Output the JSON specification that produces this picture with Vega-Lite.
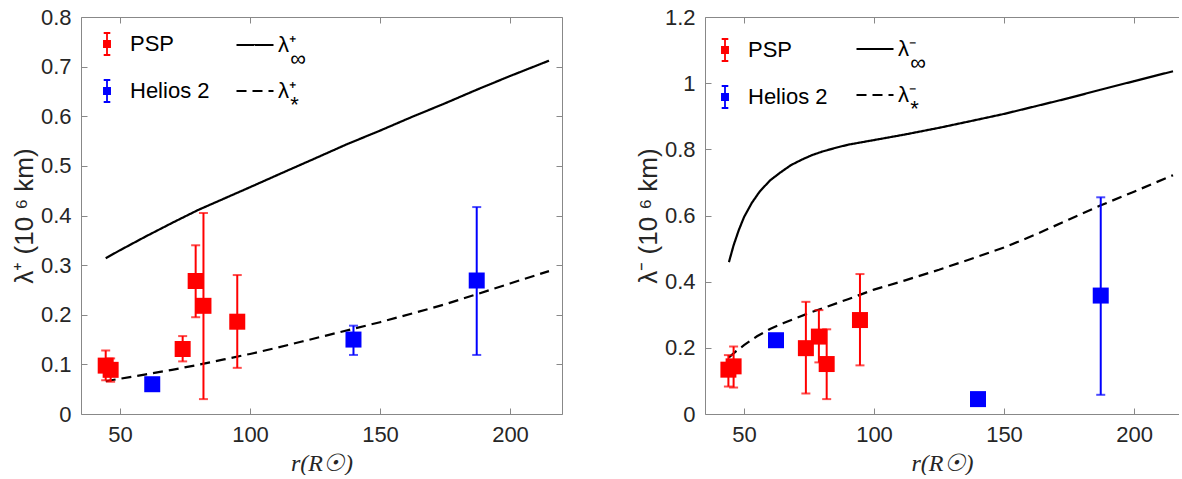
{
  "$schema": "https://vega.github.io/schema/vega-lite/v6.json",
  "padding": {"left": 11, "top": 6, "right": 0, "bottom": 0},
  "background": "white",
  "config": {
    "font": "Liberation Sans",
    "view": {"stroke": null},
    "style": {"guide-label": {"lineHeight": 14}},
    "axis": {
      "domainColor": "#888888",
      "tickColor": "#888888",
      "labelColor": "#262626",
      "labelFont": "Liberation Sans",
      "labelFontSize": 22,
      "labelFlush": false,
      "labelOverlap": false,
      "labelBound": false,
      "grid": false,
      "tickSize": -6,
      "tickWidth": 1,
      "domainWidth": 1,
      "labelPadding": 16,
      "titleFont": "Liberation Sans",
      "titleFontWeight": "normal",
      "titleFontSize": 26,
      "titleColor": "#262626"
    },
    "legend": {
      "labelFont": "Liberation Sans",
      "labelFontSize": 22,
      "labelColor": "#000000",
      "padding": 0,
      "symbolOpacity": 1
    }
  },
  "datasets": {
    "curvesL": [
      {"r": 44.5, "lam": 0.314, "curve": "inf"},
      {"r": 50, "lam": 0.330, "curve": "inf"},
      {"r": 60, "lam": 0.358, "curve": "inf"},
      {"r": 70, "lam": 0.385, "curve": "inf"},
      {"r": 80, "lam": 0.411, "curve": "inf"},
      {"r": 90, "lam": 0.434, "curve": "inf"},
      {"r": 100, "lam": 0.457, "curve": "inf"},
      {"r": 112, "lam": 0.485, "curve": "inf"},
      {"r": 125, "lam": 0.515, "curve": "inf"},
      {"r": 137, "lam": 0.543, "curve": "inf"},
      {"r": 150, "lam": 0.571, "curve": "inf"},
      {"r": 162, "lam": 0.598, "curve": "inf"},
      {"r": 175, "lam": 0.626, "curve": "inf"},
      {"r": 187, "lam": 0.653, "curve": "inf"},
      {"r": 200, "lam": 0.681, "curve": "inf"},
      {"r": 215, "lam": 0.712, "curve": "inf"},
      {"r": 44.5, "lam": 0.066, "curve": "star"},
      {"r": 50, "lam": 0.071, "curve": "star"},
      {"r": 60, "lam": 0.080, "curve": "star"},
      {"r": 70, "lam": 0.089, "curve": "star"},
      {"r": 80, "lam": 0.099, "curve": "star"},
      {"r": 90, "lam": 0.110, "curve": "star"},
      {"r": 100, "lam": 0.121, "curve": "star"},
      {"r": 110, "lam": 0.133, "curve": "star"},
      {"r": 120, "lam": 0.146, "curve": "star"},
      {"r": 130, "lam": 0.159, "curve": "star"},
      {"r": 140, "lam": 0.172, "curve": "star"},
      {"r": 150, "lam": 0.185, "curve": "star"},
      {"r": 162, "lam": 0.202, "curve": "star"},
      {"r": 175, "lam": 0.221, "curve": "star"},
      {"r": 187, "lam": 0.241, "curve": "star"},
      {"r": 200, "lam": 0.263, "curve": "star"},
      {"r": 215, "lam": 0.288, "curve": "star"}
    ],
    "pointsL": [
      {"r": 44.5, "val": 0.0975, "lo": 0.068, "hi": 0.128, "src": "PSP"},
      {"r": 46.4, "val": 0.089, "lo": 0.065, "hi": 0.112, "src": "PSP"},
      {"r": 74.1, "val": 0.131, "lo": 0.106, "hi": 0.157, "src": "PSP"},
      {"r": 79.1, "val": 0.268, "lo": 0.195, "hi": 0.340, "src": "PSP"},
      {"r": 82.1, "val": 0.218, "lo": 0.030, "hi": 0.405, "src": "PSP"},
      {"r": 95.1, "val": 0.186, "lo": 0.093, "hi": 0.280, "src": "PSP"},
      {"r": 62.4, "val": 0.060, "lo": null, "hi": null, "src": "Helios 2"},
      {"r": 139.8, "val": 0.150, "lo": 0.119, "hi": 0.178, "src": "Helios 2"},
      {"r": 187.2, "val": 0.269, "lo": 0.119, "hi": 0.417, "src": "Helios 2"}
    ],
    "curvesR": [
      {"r": 44.2, "lam": 0.459, "curve": "inf"},
      {"r": 46, "lam": 0.510, "curve": "inf"},
      {"r": 48, "lam": 0.556, "curve": "inf"},
      {"r": 50, "lam": 0.595, "curve": "inf"},
      {"r": 53, "lam": 0.638, "curve": "inf"},
      {"r": 56, "lam": 0.672, "curve": "inf"},
      {"r": 60, "lam": 0.706, "curve": "inf"},
      {"r": 64, "lam": 0.730, "curve": "inf"},
      {"r": 68, "lam": 0.752, "curve": "inf"},
      {"r": 72, "lam": 0.768, "curve": "inf"},
      {"r": 76, "lam": 0.782, "curve": "inf"},
      {"r": 80, "lam": 0.793, "curve": "inf"},
      {"r": 85, "lam": 0.804, "curve": "inf"},
      {"r": 90, "lam": 0.814, "curve": "inf"},
      {"r": 100, "lam": 0.828, "curve": "inf"},
      {"r": 112, "lam": 0.845, "curve": "inf"},
      {"r": 125, "lam": 0.865, "curve": "inf"},
      {"r": 137, "lam": 0.885, "curve": "inf"},
      {"r": 150, "lam": 0.907, "curve": "inf"},
      {"r": 162, "lam": 0.930, "curve": "inf"},
      {"r": 175, "lam": 0.955, "curve": "inf"},
      {"r": 187, "lam": 0.980, "curve": "inf"},
      {"r": 200, "lam": 1.006, "curve": "inf"},
      {"r": 215, "lam": 1.036, "curve": "inf"},
      {"r": 44.2, "lam": 0.171, "curve": "star"},
      {"r": 47, "lam": 0.190, "curve": "star"},
      {"r": 50, "lam": 0.208, "curve": "star"},
      {"r": 55, "lam": 0.235, "curve": "star"},
      {"r": 60, "lam": 0.257, "curve": "star"},
      {"r": 65, "lam": 0.274, "curve": "star"},
      {"r": 70, "lam": 0.290, "curve": "star"},
      {"r": 75, "lam": 0.305, "curve": "star"},
      {"r": 80, "lam": 0.319, "curve": "star"},
      {"r": 90, "lam": 0.347, "curve": "star"},
      {"r": 100, "lam": 0.376, "curve": "star"},
      {"r": 112, "lam": 0.404, "curve": "star"},
      {"r": 125, "lam": 0.436, "curve": "star"},
      {"r": 137, "lam": 0.468, "curve": "star"},
      {"r": 150, "lam": 0.503, "curve": "star"},
      {"r": 162, "lam": 0.542, "curve": "star"},
      {"r": 175, "lam": 0.588, "curve": "star"},
      {"r": 187, "lam": 0.630, "curve": "star"},
      {"r": 200, "lam": 0.672, "curve": "star"},
      {"r": 215, "lam": 0.722, "curve": "star"}
    ],
    "pointsR": [
      {"r": 44.0, "val": 0.134, "lo": 0.083, "hi": 0.178, "src": "PSP"},
      {"r": 46.0, "val": 0.144, "lo": 0.080, "hi": 0.204, "src": "PSP"},
      {"r": 73.8, "val": 0.199, "lo": 0.062, "hi": 0.339, "src": "PSP"},
      {"r": 78.8, "val": 0.234, "lo": 0.156, "hi": 0.314, "src": "PSP"},
      {"r": 81.8, "val": 0.151, "lo": 0.045, "hi": 0.256, "src": "PSP"},
      {"r": 94.6, "val": 0.284, "lo": 0.147, "hi": 0.423, "src": "PSP"},
      {"r": 62.3, "val": 0.223, "lo": null, "hi": null, "src": "Helios 2"},
      {"r": 140.0, "val": 0.045, "lo": null, "hi": null, "src": "Helios 2"},
      {"r": 187.2, "val": 0.358, "lo": 0.058, "hi": 0.655, "src": "Helios 2"}
    ]
  },
  "spacing": 72,
  "resolve": {
    "scale": {"x": "independent", "y": "independent", "color": "independent", "strokeDash": "independent"},
    "legend": {"color": "independent", "strokeDash": "independent"}
  },
  "hconcat": [
    {
      "width": 481,
      "height": 397,
      "resolve": {"axis": {"x": "independent", "y": "independent"}},
      "layer": [
        {
          "data": {"name": "curvesL"},
          "mark": {"type": "line", "strokeWidth": 2.2, "color": "black"},
          "encoding": {
            "x": {"field": "r", "type": "quantitative", "scale": {"domain": [35, 220], "nice": false, "zero": false},
                  "axis": {"orient": "top", "labels": false, "title": null, "values": [50, 100, 150, 200]}},
            "y": {"field": "lam", "type": "quantitative", "scale": {"domain": [0, 0.8], "nice": false},
                  "axis": {"orient": "right", "labels": false, "title": null, "values": [0, 0.1, 0.2, 0.3, 0.4, 0.5, 0.6, 0.7, 0.8]}},
            "strokeDash": {"field": "curve", "type": "nominal",
                  "scale": {"domain": ["inf", "star"], "range": [[1, 0], [10, 6]]},
                  "legend": {"title": null, "orient": "none", "legendX": 154, "legendY": 8,
                             "symbolType": "stroke", "symbolSize": 1369, "symbolStrokeWidth": 2.2,
                             "symbolStrokeColor": "black", "rowPadding": 1, "labelOffset": 3,
                             "labelExpr": "datum.value == 'inf' ? ['λ⁺', '\u200b\u00a0\u00a0∞'] : ['λ⁺', '\u200b\u00a0\u00a0*']"}}
          }
        },
        {
          "data": {"name": "pointsL"},
          "mark": {"type": "rule", "strokeWidth": 2},
          "encoding": {
            "x": {"field": "r", "type": "quantitative", "axis": null},
            "y": {"field": "lo", "type": "quantitative", "axis": null},
            "y2": {"field": "hi"},
            "color": {"field": "src", "type": "nominal", "scale": {"domain": ["PSP", "Helios 2"], "range": ["#ff0000", "#0000ff"]},
                      "legend": {"title": null, "orient": "none", "legendX": 14, "legendY": 15,
                                 "symbolType": "M-0.28,-0.28H0.28V0.28H-0.28Z M0,-1V1 M-0.3,-1H0.3 M-0.3,1H0.3",
                                 "symbolSize": 484, "symbolStrokeWidth": 1.8, "rowPadding": 17, "labelOffset": 11}}
          }
        },
        {
          "data": {"name": "pointsL"},
          "mark": {"type": "tick", "orient": "horizontal", "size": 9, "thickness": 2},
          "encoding": {
            "x": {"field": "r", "type": "quantitative", "axis": null},
            "y": {"field": "lo", "type": "quantitative", "axis": null},
            "color": {"field": "src", "type": "nominal"}
          }
        },
        {
          "data": {"name": "pointsL"},
          "mark": {"type": "tick", "orient": "horizontal", "size": 9, "thickness": 2},
          "encoding": {
            "x": {"field": "r", "type": "quantitative", "axis": null},
            "y": {"field": "hi", "type": "quantitative", "axis": null},
            "color": {"field": "src", "type": "nominal"}
          }
        },
        {
          "data": {"name": "pointsL"},
          "mark": {"type": "square", "size": 256, "filled": true, "opacity": 1},
          "encoding": {
            "x": {"field": "r", "type": "quantitative",
                  "axis": {"orient": "bottom", "values": [50, 100, 150, 200], "title": "r(R☉)",
                           "titleFont": "Liberation Serif", "titleFontStyle": "italic", "titleFontSize": 24, "titlePadding": 6}},
            "y": {"field": "val", "type": "quantitative",
                  "axis": {"orient": "left", "values": [0, 0.1, 0.2, 0.3, 0.4, 0.5, 0.6, 0.7, 0.8], "format": "~g",
                           "title": "λ⁺ (10 ⁶ km)", "titlePadding": 3}},
            "color": {"field": "src", "type": "nominal"}
          }
        }
      ]
    },
    {
      "width": 474,
      "height": 397,
      "resolve": {"axis": {"x": "independent", "y": "independent"}},
      "layer": [
        {
          "data": {"name": "curvesR"},
          "mark": {"type": "line", "strokeWidth": 2.2, "color": "black"},
          "encoding": {
            "x": {"field": "r", "type": "quantitative", "scale": {"domain": [35, 217.3], "nice": false, "zero": false},
                  "axis": {"orient": "top", "labels": false, "title": null, "values": [50, 100, 150, 200]}},
            "y": {"field": "lam", "type": "quantitative", "scale": {"domain": [0, 1.2], "nice": false}, "axis": null},
            "strokeDash": {"field": "curve", "type": "nominal",
                  "scale": {"domain": ["inf", "star"], "range": [[1, 0], [10, 6]]},
                  "legend": {"title": null, "orient": "none", "legendX": 150, "legendY": 12,
                             "symbolType": "stroke", "symbolSize": 1369, "symbolStrokeWidth": 2.2,
                             "symbolStrokeColor": "black", "rowPadding": 1, "labelOffset": 3,
                             "labelExpr": "datum.value == 'inf' ? ['λ⁻', '\u200b\u00a0\u00a0∞'] : ['λ⁻', '\u200b\u00a0\u00a0*']"}}
          }
        },
        {
          "data": {"name": "pointsR"},
          "mark": {"type": "rule", "strokeWidth": 2},
          "encoding": {
            "x": {"field": "r", "type": "quantitative", "axis": null},
            "y": {"field": "lo", "type": "quantitative", "axis": null},
            "y2": {"field": "hi"},
            "color": {"field": "src", "type": "nominal", "scale": {"domain": ["PSP", "Helios 2"], "range": ["#ff0000", "#0000ff"]},
                      "legend": {"title": null, "orient": "none", "legendX": 8, "legendY": 21,
                                 "symbolType": "M-0.28,-0.28H0.28V0.28H-0.28Z M0,-1V1 M-0.3,-1H0.3 M-0.3,1H0.3",
                                 "symbolSize": 484, "symbolStrokeWidth": 1.8, "rowPadding": 17, "labelOffset": 11}}
          }
        },
        {
          "data": {"name": "pointsR"},
          "mark": {"type": "tick", "orient": "horizontal", "size": 9, "thickness": 2},
          "encoding": {
            "x": {"field": "r", "type": "quantitative", "axis": null},
            "y": {"field": "lo", "type": "quantitative", "axis": null},
            "color": {"field": "src", "type": "nominal"}
          }
        },
        {
          "data": {"name": "pointsR"},
          "mark": {"type": "tick", "orient": "horizontal", "size": 9, "thickness": 2},
          "encoding": {
            "x": {"field": "r", "type": "quantitative", "axis": null},
            "y": {"field": "hi", "type": "quantitative", "axis": null},
            "color": {"field": "src", "type": "nominal"}
          }
        },
        {
          "data": {"name": "pointsR"},
          "mark": {"type": "square", "size": 256, "filled": true, "opacity": 1},
          "encoding": {
            "x": {"field": "r", "type": "quantitative",
                  "axis": {"orient": "bottom", "values": [50, 100, 150, 200], "title": "r(R☉)",
                           "titleFont": "Liberation Serif", "titleFontStyle": "italic", "titleFontSize": 24, "titlePadding": 6}},
            "y": {"field": "val", "type": "quantitative",
                  "axis": {"orient": "left", "values": [0, 0.2, 0.4, 0.6, 0.8, 1, 1.2], "format": "~g",
                           "title": "λ⁻ (10 ⁶ km)", "titlePadding": 3}},
            "color": {"field": "src", "type": "nominal"}
          }
        }
      ]
    }
  ]
}
